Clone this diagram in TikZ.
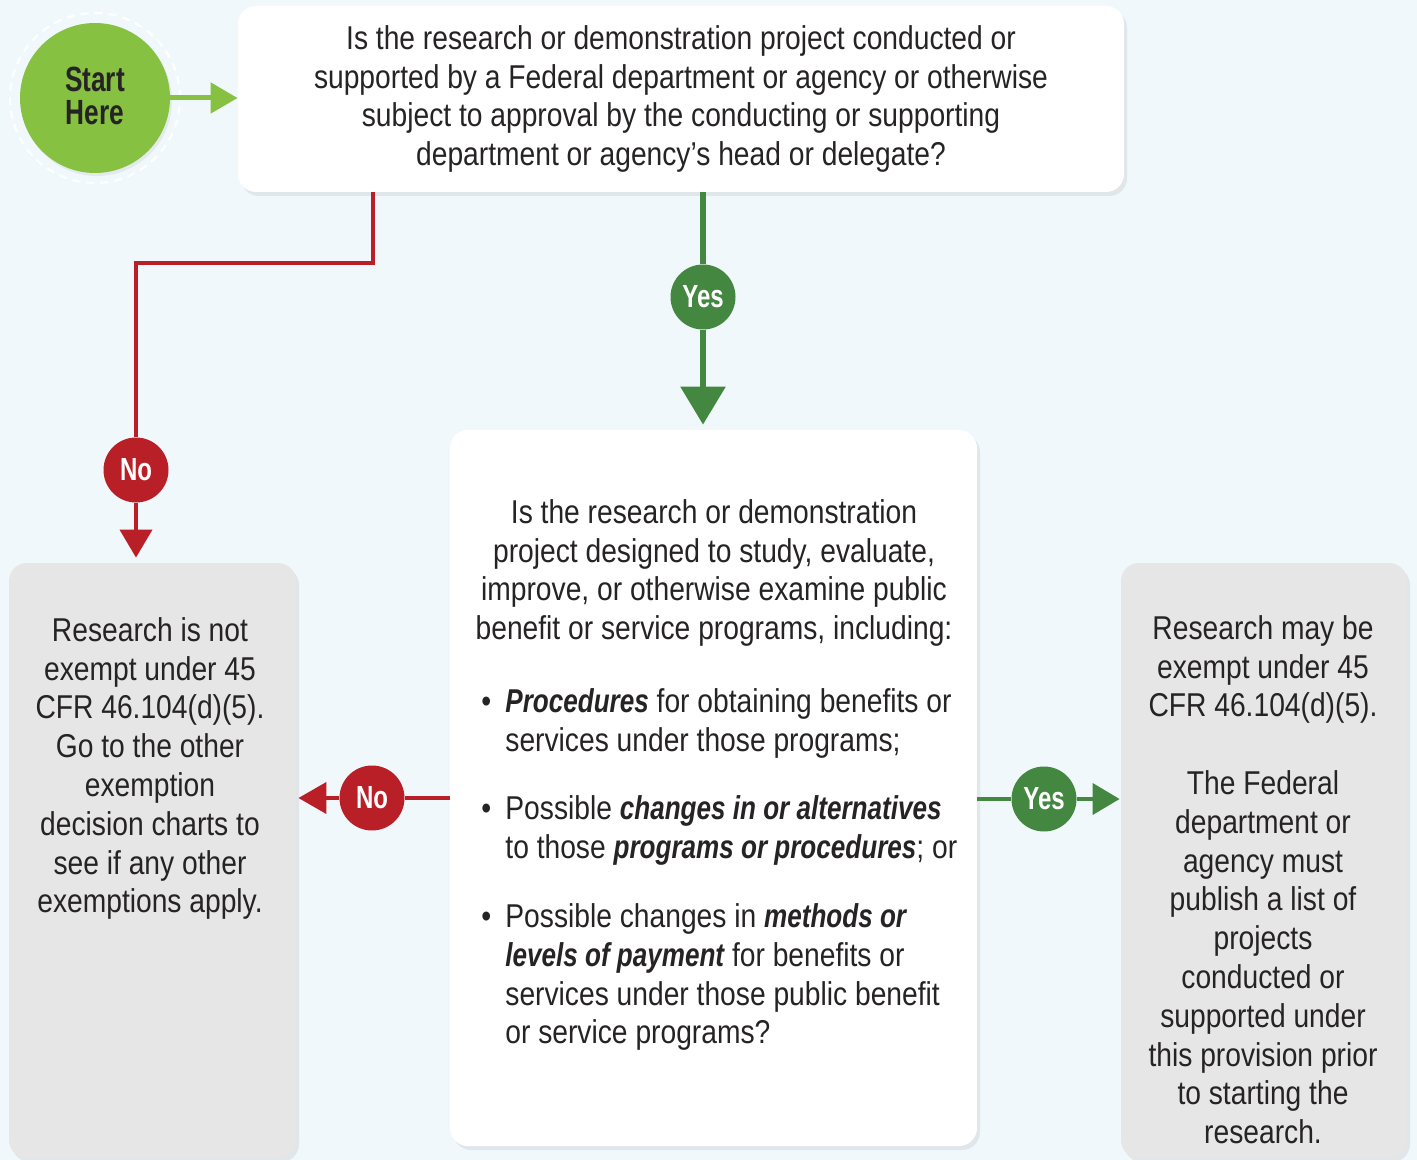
\documentclass[tikz,border=0pt]{standalone}
\usepackage{fontspec}
\setmainfont[FakeStretch=0.855]{Liberation Sans}
\newfontfamily\badgefont[FakeStretch=0.75]{Liberation Sans}
\newfontfamily\bifont[FakeStretch=0.79]{Liberation Sans}
\usetikzlibrary{positioning, arrows.meta, shadows}
\definecolor{bgblue}{HTML}{F1F8FC}
\definecolor{ink}{HTML}{262324}
\definecolor{boxgrey}{HTML}{E6E6E6}
\definecolor{startgreen}{HTML}{86C141}
\definecolor{yesgreen}{HTML}{438740}
\definecolor{nored}{HTML}{B81F26}
\newcommand{\bi}[1]{{\bifont\bfseries\itshape #1}}
\newcommand{\bul}{\makebox[12pt][l]{\textbullet}}
\newcommand{\ind}{\hspace*{12pt}}

\begin{document}
\begin{tikzpicture}[x=0.5pt, y=-0.5pt, font=\fontsize{16.5}{19.4}\selectfont, text=ink,
    box/.style={rounded corners=9pt, fill=white, inner sep=0pt,
        drop shadow={shadow xshift=1.5pt, shadow yshift=-2pt, opacity=0.15}},
    greybox/.style={box, fill=boxgrey},
    badge/.style={circle, minimum size=32.5pt, inner sep=0pt, text=white,
        font=\badgefont\bfseries\fontsize{16}{18}\selectfont},
    yes/.style={badge, fill=yesgreen},
    no/.style={badge, fill=nored},
    noline/.style={nored, line width=2pt},
    yesline/.style={yesgreen, line width=2pt},
    boxtext/.style={anchor=north, align=center, inner sep=0pt}]
    \useasboundingbox (0,0) rectangle (1417,1160);
    \fill[bgblue] (0,0) rectangle (1417,1160);

    \node[circle, draw=white, dashed, line width=1pt, dash pattern=on 4pt off 3pt, minimum size=85pt] (ring) at (95,98) {};
    \node[circle, fill=startgreen, minimum size=75pt, inner sep=0pt, align=center,
        drop shadow={shadow xshift=1pt, shadow yshift=-1.5pt, opacity=0.12},
        font=\badgefont\bfseries\fontsize{17.5}{16.5}\selectfont] (start) at (95,98) {Start\\Here\vspace{2pt}};
    \node[box, minimum width=443pt, minimum height=93pt, align=center] (q1) at (681,99)
        {Is the research or demonstration project conducted or\\
         supported by a Federal department or agency or otherwise\\
         subject to approval by the conducting or supporting\\
         department or agency’s head or delegate?};
    \node[box, minimum width=263.5pt, minimum height=358pt] (q2) at (713.5,788) {};
    \node[greybox, minimum width=143.5pt, minimum height=297.5pt] (notexempt) at (152.5,860.5) {};
    \node[greybox, minimum width=143pt, minimum height=297.5pt] (exempt) at (1264,860.5) {};

    \node[boxtext] (notexempttext) at (150,617)
        {Research is not\\ exempt under 45\\ CFR 46.104(d)(5).\\ Go to the other\\ exemption\\
         decision charts to\\ see if any other\\ exemptions apply.};
    \node[boxtext] (exempttext) at (1263,615)
        {Research may be\\ exempt under 45\\ CFR 46.104(d)(5).\\[19.4pt] The Federal\\ department or\\
         agency must\\ publish a list of\\ projects\\ conducted or\\ supported under\\
         this provision prior\\ to starting the\\ research.};
    \node[boxtext] (q2text) at (714,499)
        {Is the research or demonstration\\ project designed to study, evaluate,\\
         improve, or otherwise examine public\\ benefit or service programs, including:};
    \node[anchor=north west, align=left, inner sep=0pt] (q2list) at (481,688)
        {\bul\bi{Procedures} for obtaining benefits or\\
         \ind services under those programs;\\[15pt]
         \bul Possible \bi{changes in or alternatives}\\
         \ind to those \bi{programs or procedures}; or\\[15pt]
         \bul Possible changes in \bi{methods or}\\
         \ind\bi{levels of payment} for benefits or\\
         \ind services under those public benefit\\
         \ind or service programs?};

    \coordinate (nobend) at (373,263);
    \node[no] (no1) at (136,470) {No};
    \node[yes] (yes1) at (703,297) {Yes};
    \node[no] (no2) at (372,798) {No};
    \node[yes] (yes2) at (1044,799) {Yes};

    \draw[startgreen, line width=2.5pt, -{Triangle[length=13.5pt, width=15pt]}] (start) -- (q1.west |- start);
    \draw[noline] (q1.south -| nobend) -- (nobend) -| (no1);
    \draw[noline, -{Triangle[length=14pt, width=16pt]}, shorten >=2.5pt] (no1) -- (no1 |- notexempt.north);
    \draw[yesline, line width=3pt] (q1.south -| yes1) -- (yes1);
    \draw[yesline, line width=3pt, -{Triangle[length=19pt, width=22pt]}, shorten >=2.5pt] (yes1) -- (yes1 |- q2.north);
    \draw[noline] (q2.west |- no2) -- (no2);
    \draw[noline, -{Triangle[length=14pt, width=15.5pt]}, shorten >=1pt] (no2) -- (notexempt.east |- no2);
    \draw[yesline] (q2.east |- yes2) -- (yes2);
    \draw[yesline, -{Triangle[length=13.5pt, width=15.5pt]}, shorten >=0.5pt] (yes2) -- (exempt.west |- yes2);
\end{tikzpicture}
\end{document}
